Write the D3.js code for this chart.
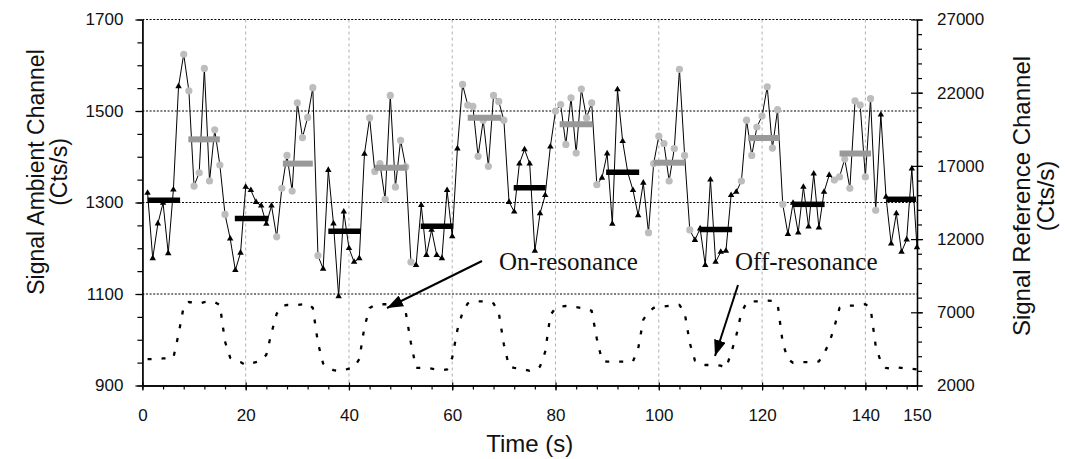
<!DOCTYPE html>
<html><head><meta charset="utf-8">
<script src="https://cdn.jsdelivr.net/npm/d3@7"></script>
<style>body{margin:0;background:#fff}</style>
</head><body><svg id="c" width="1065" height="459"></svg>
<script>
// ---------------- data ----------------
const sampleTimes = d3.range(1, 151); // one sample per second, t = 1 .. 150
const ambient = [
1321,1178,1254,1299,1189,1328,1554,1624,1544,1336,
1365,1593,1347,1459,1382,1274,1221,1152,1190,1334,
1327,1301,1293,1253,1293,1225,1331,1403,1325,1518,
1442,1486,1551,1184,1155,1371,1254,1095,1280,1200,
1170,1178,1406,1485,1368,1385,1307,1534,1334,1436,
1378,1170,1163,1294,1185,1240,1185,1178,1327,1226,
1418,1558,1513,1510,1401,1480,1379,1534,1521,1480,
1301,1280,1385,1416,1385,1194,1276,1316,1422,1500,
1514,1427,1529,1408,1548,1485,1518,1339,1354,1407,
1253,1547,1434,1365,1327,1272,1343,1234,1385,1445,
1429,1347,1418,1591,1403,1240,1218,1243,1163,1350,
1170,1192,1194,1316,1323,1347,1480,1403,1465,1489,
1553,1419,1503,1296,1231,1299,1234,1334,1247,1363,
1245,1323,1360,1349,1356,1395,1331,1522,1513,1356,
1527,1283,1492,1312,1210,1276,1192,1219,1374,1202];
const reference = [
3800,3800,3820,3850,3850,3900,5500,7400,7700,7650,
7600,7700,7750,7700,7500,5000,3900,3700,3600,3400,
3500,3600,3700,4100,5600,6900,7400,7500,7500,7500,
7550,7600,7300,4900,3500,3200,3050,3000,3050,3150,
3250,3800,6000,7300,7500,7550,7550,7550,7550,7500,
7000,4900,3200,3200,3200,3150,3100,3050,3100,3900,
5800,7000,7600,7750,7750,7750,7750,7600,7000,4800,
3300,3200,3170,3100,3000,3050,3300,4300,6800,7300,
7400,7430,7400,7350,7300,7250,7100,5200,3700,3630,
3630,3630,3630,3630,3650,4500,6500,7000,7300,7400,
7400,7450,7500,7500,7000,4900,3700,3450,3400,3400,
3400,3350,3200,4200,5400,7000,7650,7750,7750,7780,
7800,7780,7600,4900,3800,3550,3550,3600,3600,3600,
3650,4200,4900,6000,7300,7450,7450,7450,7500,7550,
7300,4700,3600,3200,3150,3250,3200,3150,3150,3100];
// on-resonance sample blocks [first, last]
const onBlockStart = [8, 26, 44, 62, 80, 98, 116, 134];
const onBlockEnd   = [16, 34, 52, 70, 88, 106, 124, 142];
// block means
const offBarStart = [1.0, 17.9, 36.0, 53.9, 71.9, 89.8, 107.9, 126.0, 144.2];
const offBarEnd   = [7.3, 24.4, 42.3, 60.2, 78.1, 96.2, 114.2, 132.1, 149.8];
const offBarValue = [1305, 1265, 1237, 1248, 1332, 1366, 1241, 1296, 1307];
const onBarStart  = [8.9, 27.2, 45.0, 63.0, 80.8, 99.0, 117.3, 135.0];
const onBarEnd    = [15.0, 33.0, 51.3, 69.5, 87.1, 105.0, 123.4, 141.1];
const onBarValue  = [1438, 1385, 1376, 1485, 1471, 1387, 1441, 1407];
// axes
const xTicks = [0, 20, 40, 60, 80, 100, 120, 140, 150];
const xGrid = [20, 40, 60, 80, 100, 120, 140];
const leftTicks = [900, 1100, 1300, 1500, 1700];
const leftGrid = [1100, 1300, 1500, 1700];
const rightTicks = [2000, 7000, 12000, 17000, 22000, 27000];
const xMinorStep = 4, leftMinorStep = 50, rightMinorStep = 1000;
const labels = {x: "Time (s)", left: ["Signal Ambient Channel", "(Cts/s)"], right: ["Signal Reference Channel", "(Cts/s)"]};
const notes = [{text: "On-resonance", x: 499, y: 270, from: [482, 261], to: [387, 308]},
               {text: "Off-resonance", x: 735, y: 270, from: [738, 285], to: [715, 356]}];

// ---------------- drawing ----------------
const svg = d3.select("#c");
const L = 142.4, R = 917, T = 19.5, B = 385.5;
const x = d3.scaleLinear().domain([0, 150]).range([L, R]);
const yL = d3.scaleLinear().domain([900, 1700]).range([B, T]);
const yR = d3.scaleLinear().domain([2000, 27000]).range([B, T]);
const sans = "'Liberation Sans', Arial, sans-serif";
const serif = "'Liberation Serif', 'Times New Roman', serif";

svg.append("rect").attr("width", 1065).attr("height", 459).attr("fill", "#fff");

// grid
svg.append("g").selectAll("line").data(xGrid).join("line")
  .attr("x1", d => x(d)).attr("x2", d => x(d)).attr("y1", T).attr("y2", B)
  .attr("stroke", "#b0b0b0").attr("stroke-width", 1).attr("stroke-dasharray", "3,3");
svg.append("g").selectAll("line").data(leftGrid).join("line")
  .attr("x1", L).attr("x2", R).attr("y1", d => yL(d)).attr("y2", d => yL(d))
  .attr("stroke", "#000").attr("stroke-width", 1.2).attr("stroke-dasharray", "2,1.6");

// reference channel (dotted)
svg.append("path").datum(reference)
  .attr("d", d3.line().x((d, i) => x(sampleTimes[i])).y(d => yR(d)))
  .attr("fill", "none").attr("stroke", "#000").attr("stroke-width", 2.3)
  .attr("stroke-dasharray", "4,10");

// ambient line
svg.append("path").datum(ambient)
  .attr("d", d3.line().x((d, i) => x(sampleTimes[i])).y(d => yL(d)))
  .attr("fill", "none").attr("stroke", "#000").attr("stroke-width", 1);

const isOn = t => onBlockStart.some((s, k) => t >= s && t <= onBlockEnd[k]);
const pts = ambient.map((v, i) => ({t: sampleTimes[i], v, on: isOn(sampleTimes[i])}));
svg.append("g").selectAll("path").data(pts.filter(p => !p.on)).join("path")
  .attr("d", d3.symbol(d3.symbolTriangle, 18))
  .attr("transform", p => `translate(${x(p.t)},${yL(p.v)})`)
  .attr("fill", "#000");
svg.append("g").selectAll("circle").data(pts.filter(p => p.on)).join("circle")
  .attr("cx", p => x(p.t)).attr("cy", p => yL(p.v)).attr("r", 3.6)
  .attr("fill", "#bdbdbd");

// mean bars
svg.append("g").selectAll("line").data(offBarValue).join("line")
  .attr("x1", (d, i) => x(offBarStart[i])).attr("x2", (d, i) => x(offBarEnd[i]))
  .attr("y1", d => yL(d)).attr("y2", d => yL(d))
  .attr("stroke", "#000").attr("stroke-width", 5.5);
svg.append("g").selectAll("line").data(onBarValue).join("line")
  .attr("x1", (d, i) => x(onBarStart[i])).attr("x2", (d, i) => x(onBarEnd[i]))
  .attr("y1", d => yL(d)).attr("y2", d => yL(d))
  .attr("stroke", "#999").attr("stroke-width", 6);

// axes
function styleAxis(g) {
  g.selectAll("path.domain").attr("stroke", "#000").attr("stroke-width", 1.3);
  g.selectAll(".tick line").attr("stroke", "#000").attr("stroke-width", 1.2);
  g.selectAll("text").attr("font-family", sans).attr("font-size", 17).attr("fill", "#111");
}
const minor = (a, b, s) => d3.range(a, b + 1e-9, s);

// x
svg.append("g").attr("transform", `translate(0,${B})`)
  .call(d3.axisBottom(x).tickValues(minor(0, 150, xMinorStep)).tickFormat("").tickSizeInner(4).tickSizeOuter(0))
  .call(styleAxis);
const gx = svg.append("g").attr("transform", `translate(0,${B})`)
  .call(d3.axisBottom(x).tickValues(xTicks).tickFormat(d3.format("d")).tickSizeInner(5).tickSizeOuter(0).tickPadding(18.5))
  .call(styleAxis);
gx.selectAll(".tick").filter(d => d !== 150).append("line").attr("y1", -3).attr("y2", 0).attr("stroke", "#000").attr("stroke-width", 1.2);

// left
svg.append("g").attr("transform", `translate(${L},0)`)
  .call(d3.axisLeft(yL).tickValues(minor(900, 1700, leftMinorStep)).tickFormat("").tickSizeInner(5).tickSizeOuter(0))
  .call(styleAxis);
svg.append("g").attr("transform", `translate(${L},0)`)
  .call(d3.axisLeft(yL).tickValues(leftTicks).tickFormat(d3.format("d")).tickSizeInner(7).tickSizeOuter(0).tickPadding(12))
  .call(styleAxis);

// right
svg.append("g").attr("transform", `translate(${R},0)`)
  .call(d3.axisRight(yR).tickValues(minor(2000, 27000, rightMinorStep)).tickFormat("").tickSizeInner(5).tickSizeOuter(0))
  .call(styleAxis);
const gr = svg.append("g").attr("transform", `translate(${R},0)`)
  .call(d3.axisRight(yR).tickValues(rightTicks).tickFormat(d3.format("d")).tickSizeInner(6).tickSizeOuter(0).tickPadding(14))
  .call(styleAxis);
gr.selectAll(".tick").append("line").attr("x1", -6).attr("x2", 0).attr("stroke", "#000").attr("stroke-width", 1.2);

// axis titles
svg.append("text").attr("x", (L + R) / 2).attr("y", 452).attr("text-anchor", "middle")
  .attr("font-family", sans).attr("font-size", 24).attr("fill", "#111").text(labels.x);
const lt = svg.append("text").attr("transform", "translate(44,172) rotate(-90)").attr("text-anchor", "middle")
  .attr("font-family", sans).attr("font-size", 23).attr("fill", "#111");
lt.append("tspan").attr("x", 0).attr("y", 0).text(labels.left[0]);
lt.append("tspan").attr("x", 0).attr("y", 23).text(labels.left[1]);
const rt = svg.append("text").attr("transform", "translate(1030,196) rotate(-90)").attr("text-anchor", "middle")
  .attr("font-family", sans).attr("font-size", 24).attr("fill", "#111");
rt.append("tspan").attr("x", 0).attr("y", 0).text(labels.right[0]);
rt.append("tspan").attr("x", 0).attr("y", 24).text(labels.right[1]);

// annotations
svg.append("defs").append("marker").attr("id", "ah").attr("viewBox", "0 0 16 12")
  .attr("refX", 16).attr("refY", 6).attr("markerWidth", 16).attr("markerHeight", 12)
  .attr("markerUnits", "userSpaceOnUse").attr("orient", "auto")
  .append("path").attr("d", "M0,0 L16,6 L0,12 Z").attr("fill", "#000");
notes.forEach(n => {
  svg.append("line").attr("x1", n.from[0]).attr("y1", n.from[1]).attr("x2", n.to[0]).attr("y2", n.to[1])
    .attr("stroke", "#000").attr("stroke-width", 2).attr("marker-end", "url(#ah)");
  svg.append("text").attr("x", n.x).attr("y", n.y).attr("font-family", serif).attr("font-size", 25)
    .attr("fill", "#111").text(n.text);
});
</script></body></html>
